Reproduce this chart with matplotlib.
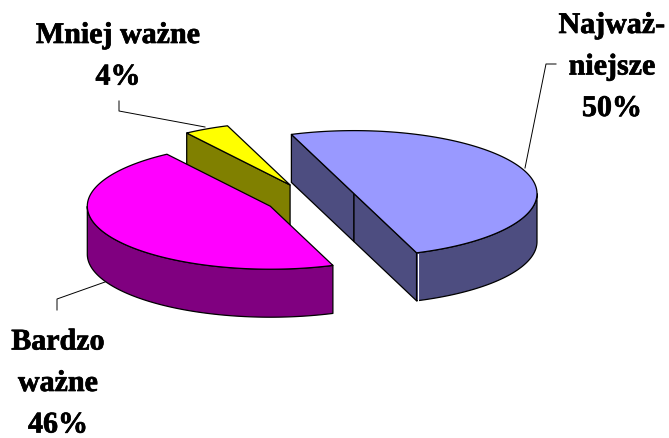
import numpy as np
import matplotlib
matplotlib.use("Agg")
import matplotlib.pyplot as plt
import matplotlib.patheffects as pe

# dane
names = ["Najważniejsze", "Bardzo ważne", "Mniej ważne"]
values = [50, 46, 4]
label_lines = [["Najważ-", "niejsze", "50%"], ["Bardzo", "ważne", "46%"], ["Mniej ważne", "4%"]]

top_colors = ["#9999FF", "#FF00FF", "#FFFF00"]
side_colors = ["#4D4D80", "#800080", "#808000"]

# geometria wykresu 3D (piksele)
cx, cy = 311, 200
rx, ry = 183, 63
depth = 48
explode = 0.25
start_angle = 110
label_xy = [(612, 34), (58, 350.5), (118, 44)]
leaders = [
    [(525, 169), (546, 65), (556, 65)],
    [(105, 283), (57, 300), (57, 311)],
    [(205, 128), (119, 112), (119, 102)],
]

plt.rcParams["font.family"] = ["Liberation Serif", "DejaVu Serif"]
fig = plt.figure(figsize=(6.69, 4.39), dpi=100)
ax = fig.add_axes([0, 0, 1, 1])
ax.set_xlim(0, 669)
ax.set_ylim(439, 0)
ax.axis("off")

# kąty wycinków liczone z wartości
sweep = np.array(values) / sum(values) * 360
ends = start_angle - np.cumsum(sweep)
starts = ends + sweep


def poly(pts, color, z):
    pts = np.array(pts)
    ax.fill(pts[:, 0], pts[:, 1], facecolor=color, edgecolor="black", linewidth=0.9, joinstyle="round", zorder=z)


# od tyłu do przodu: żółty, różowy, niebieski
for i in [2, 1, 0]:
    mid = np.radians((starts[i] + ends[i]) / 2)
    x0 = cx + explode * rx * np.cos(mid)
    y0 = cy - explode * ry * np.sin(mid)
    t = np.radians(np.linspace(starts[i], ends[i], 500))
    arc = np.c_[x0 + rx * np.cos(t), y0 - ry * np.sin(t)]
    z = 3 - i

    # ściany boczne
    for edge, sign in [(0, -1), (-1, 1)]:
        if sign * np.cos(t[edge]) > 0:
            p = arc[edge]
            poly([p, (x0, y0), (x0, y0 + depth), (p[0], p[1] + depth)], side_colors[i], z)
    mask = np.sin(t) < 0
    if mask.any():
        rim = arc[mask]
        poly(np.r_[rim, rim[::-1] + [0, depth]], side_colors[i], z)

    # góra wycinka
    poly(np.r_[[(x0, y0)], arc], top_colors[i], z)

    if i == 0:
        ax.plot([arc[-1, 0] + 1.2] * 2, [arc[-1, 1] + 1, arc[-1, 1] + depth], color="white", linewidth=0.8, zorder=z)

for line in leaders:
    pts = np.array(line)
    ax.plot(pts[:, 0], pts[:, 1], color="black", linewidth=0.7, zorder=1)

for lines, (x, y) in zip(label_lines, label_xy):
    for n, s in enumerate(lines):
        ax.text(x, y + n * 41.5, s, ha="center", va="baseline", fontsize=21.6, fontweight="bold", color="black",
                path_effects=[pe.withStroke(linewidth=0.5, foreground="black")])

fig.savefig("out.png", dpi=100)
